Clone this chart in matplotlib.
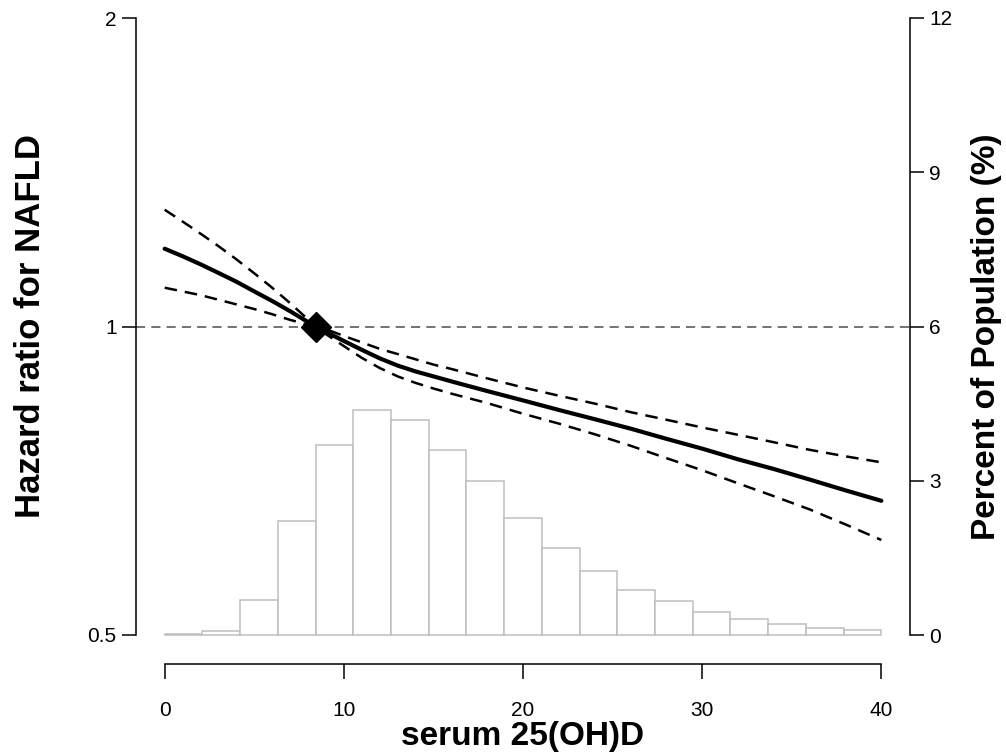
import numpy as np
import matplotlib
matplotlib.use("Agg")
import matplotlib.pyplot as plt
from matplotlib.ticker import FixedLocator, NullLocator, FixedFormatter

plt.rcParams['font.family'] = ['Liberation Sans', 'DejaVu Sans']

# ---- data ----
serum_x = [0, 1, 2, 3, 4, 5, 6, 7, 8, 8.42, 9, 10, 11, 12, 13, 14, 15, 16,
           18, 20, 22, 24, 26, 28, 30, 32, 34, 36, 38, 40]
hr_fit = [1.191, 1.171, 1.150, 1.128, 1.106, 1.082, 1.059, 1.035, 1.010, 1.0,
          0.988, 0.968, 0.949, 0.931, 0.916, 0.904, 0.894, 0.884,
          0.865, 0.847, 0.829, 0.812, 0.795, 0.777, 0.760, 0.742, 0.726,
          0.709, 0.692, 0.676]
hr_upper = [1.300, 1.266, 1.232, 1.198, 1.163, 1.127, 1.091, 1.054, 1.016, 1.0,
            0.994, 0.979, 0.965, 0.951, 0.940, 0.929, 0.918, 0.909,
            0.890, 0.872, 0.856, 0.841, 0.825, 0.811, 0.797, 0.784, 0.771,
            0.758, 0.747, 0.737]
hr_lower = [1.091, 1.082, 1.073, 1.062, 1.051, 1.040, 1.028, 1.015, 1.004, 1.0,
            0.983, 0.957, 0.932, 0.911, 0.894, 0.881, 0.870, 0.860,
            0.842, 0.822, 0.804, 0.785, 0.765, 0.744, 0.724, 0.703, 0.683,
            0.663, 0.641, 0.619]
ref_x = 8.42
ref_hr = 1.0

n_bins = 19
hist_range = (0, 40)
pct_population = [0.01, 0.08, 0.68, 2.21, 3.70, 4.38, 4.19, 3.60, 2.99, 2.28,
                  1.70, 1.25, 0.875, 0.66, 0.45, 0.31, 0.21, 0.13, 0.09]

x_ticks = [0, 10, 20, 30, 40]
hr_ticks = [0.5, 1, 2]
hr_tick_labels = ['0.5', '1', '2']
pct_ticks = [0, 3, 6, 9, 12]

# ---- figure ----
W, H = 1006, 755
fig = plt.figure(figsize=(W / 100, H / 100), dpi=100)
left_px, right_px, top_px, bot_px = 136, 910, 10, 664
ax = fig.add_axes([left_px / W, 1 - bot_px / H, (right_px - left_px) / W, (bot_px - top_px) / H])
axr = ax.twinx()
ax.set_zorder(axr.get_zorder() + 1)
ax.patch.set_visible(False)

ax.set_xlim(-1.6, 41.6)
ax.set_yscale('log', base=2)
ax.set_ylim(0.5 * 2 ** (-29 / 308.5), 2 * 2 ** (8 / 308.5))
axr.set_ylim(-29 / 51.42, 12 + 8 / 51.42)

# histogram (right axis)
edges = np.linspace(hist_range[0], hist_range[1], n_bins + 1)
axr.bar(edges[:-1], pct_population, width=np.diff(edges), align='edge',
        facecolor='white', edgecolor='#BEBEBE', linewidth=1.1, zorder=1)

# reference line
ax.axhline(1, color='#4D4D4D', lw=1.1, dashes=(6, 4), zorder=2)

# curves
ax.plot(serum_x, hr_upper, color='black', lw=1.8, dashes=(5, 3.2), zorder=3)
ax.plot(serum_x, hr_lower, color='black', lw=1.8, dashes=(5, 3.2), zorder=3)
ax.plot(serum_x, hr_fit, color='black', lw=3.0, solid_capstyle='round',
        solid_joinstyle='round', zorder=4)
ax.plot([ref_x], [ref_hr], marker='D', ms=15, color='black', zorder=5)

# spines
for s in ['top', 'right']:
    ax.spines[s].set_visible(False)
for s in ['top', 'left', 'bottom']:
    axr.spines[s].set_visible(False)
ax.spines['left'].set_bounds(0.5, 2)
ax.spines['bottom'].set_bounds(0, 40)
axr.spines['right'].set_bounds(0, 12)
for sp in [ax.spines['left'], ax.spines['bottom'], axr.spines['right']]:
    sp.set_linewidth(1.1)
    sp.set_color('black')

# ticks
ax.yaxis.set_major_locator(FixedLocator(hr_ticks))
ax.yaxis.set_major_formatter(FixedFormatter(hr_tick_labels))
ax.yaxis.set_minor_locator(NullLocator())
ax.set_xticks(x_ticks)
ax.set_xticklabels([str(v) for v in x_ticks],
                   family=['Liberation Sans Narrow', 'Liberation Sans'])
axr.set_yticks(pct_ticks)
axr.yaxis.set_minor_locator(NullLocator())

ax.tick_params(axis='y', length=10, width=1.1, pad=4, labelsize=15)
ax.tick_params(axis='x', length=11, width=1.1, pad=16, labelsize=15)
axr.tick_params(axis='y', length=10, width=1.1, pad=4, labelsize=15)

# axis labels
fig.text(31 / W, 1 - 326 / H, 'Hazard ratio for NAFLD', rotation=90,
         ha='center', va='center', fontsize=25, fontweight='bold')
fig.text(986 / W, 1 - 337 / H, 'Percent of Population (%)', rotation=90,
         ha='center', va='center', fontsize=24, fontweight='bold')
fig.text(523 / W, 1 - 737 / H, 'serum 25(OH)D',
         ha='center', va='center', fontsize=24, fontweight='bold')

fig.savefig('out.png', dpi=100)
